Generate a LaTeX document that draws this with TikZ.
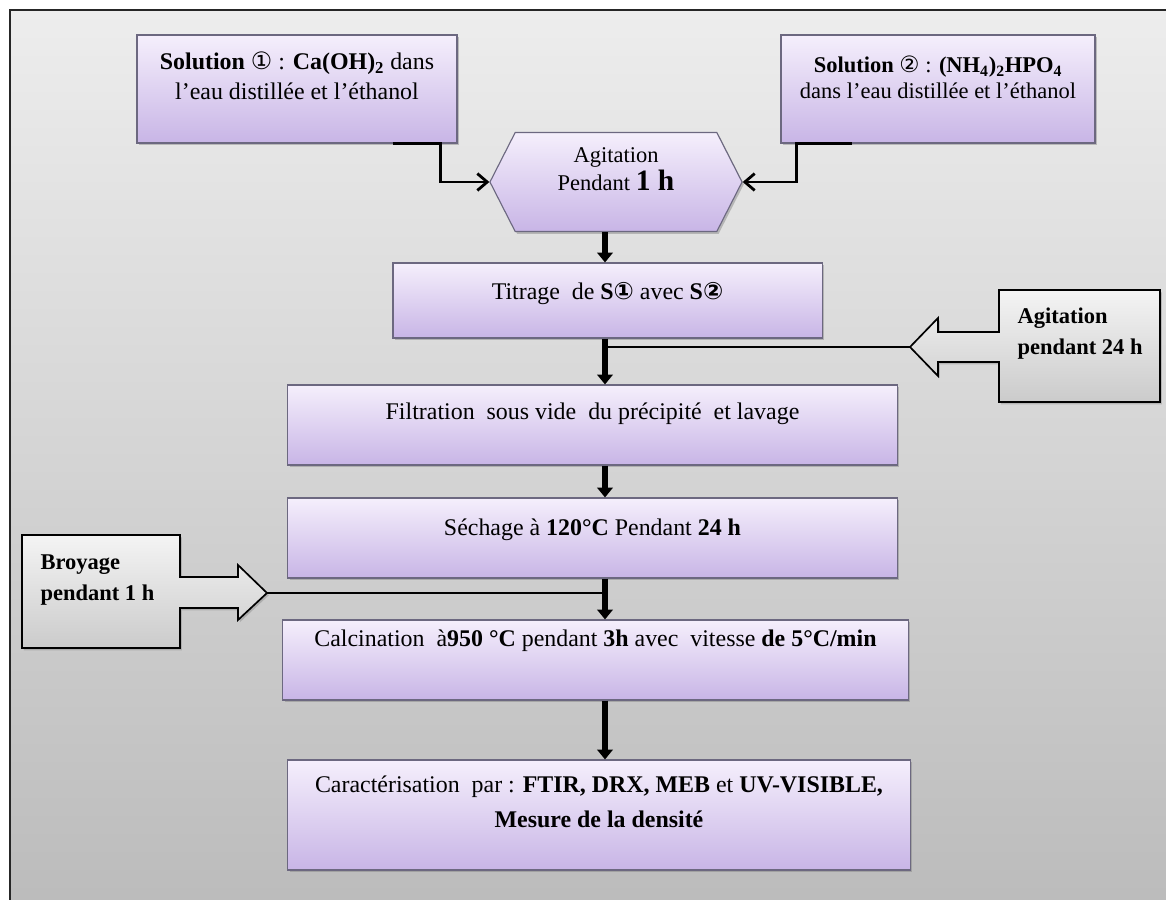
\documentclass[tikz,border=0pt]{standalone}
\usepackage{fontspec}
\setmainfont{Liberation Serif}
\newfontfamily\circfont{DejaVu Sans}
\usetikzlibrary{arrows.meta, positioning, shapes.symbols, shadows, calc}
\definecolor{clavtop}{HTML}{F5EFFC}
\definecolor{clavbot}{HTML}{C8B5E6}
\definecolor{cedge}{HTML}{6C6880}
\definecolor{cgreytop}{HTML}{F4F4F4}
\definecolor{cgreybot}{HTML}{CBCBCB}
\definecolor{cbgtop}{HTML}{EDEDED}
\definecolor{cbgbot}{HTML}{BBBBBB}
\newcommand{\cone}{{\circfont ①}}
\newcommand{\ctwo}{{\circfont ②}}
\tikzset{
  every picture/.style={line width=0.8pt},
  box/.style={draw=cedge, top color=clavtop, bottom color=clavbot, inner sep=0pt,
    drop shadow={shadow xshift=1.3pt, shadow yshift=-1.6pt, opacity=0.45}},
  sidebox/.style={draw=black, line width=1.2pt, top color=cgreytop, bottom color=cgreybot,
    drop shadow={shadow xshift=1.3pt, shadow yshift=-1.6pt, opacity=0.4}},
  txt/.style={align=center, inner sep=0pt, font=\fontsize{17}{24}\selectfont},
  calltext/.style={align=left, inner sep=0pt, font=\fontsize{16}{22}\selectfont\bfseries},
  flow/.style={-{Triangle[width=11pt,length=7pt]}, line width=3.7pt},
  feed/.style={-{Straight Barb[width=12pt,length=7pt]}, line width=2pt},
  tie/.style={line width=1pt},
}

\begin{document}
\begin{tikzpicture}[x=0.025cm, y=-0.025cm]
  \useasboundingbox (0,0) rectangle (1166,900);
  \clip (0,0) rectangle (1166,900);
  % page background
  \shade[top color=cbgtop, bottom color=cbgbot, draw=black!85, line width=1.4pt]
    (10,10) rectangle (1180,915);

  % the two solutions
  \node[box, minimum width=8cm, minimum height=2.7cm] (sol1) at (297,89) {};
  \node[txt, below=12pt of sol1.north, font=\fontsize{17}{21}\selectfont] (sol1txt)
    {\textbf{Solution} \cone{} : \textbf{Ca(OH)\textsubscript{2}} dans\\l'eau distillée et l'éthanol};
  \node[box, minimum width=7.85cm, minimum height=2.7cm] (sol2) at (938,89) {};
  \node[txt, below=15pt of sol2.north, font=\fontsize{16}{18.5}\selectfont] (sol2txt)
    {\textbf{Solution} \ctwo{} : \textbf{(NH\textsubscript{4})\textsubscript{2}HPO\textsubscript{4}}\\dans l'eau distillée et l'éthanol};

  \node[box, shape=signal, signal to=west and east, signal pointer angle=126,
    minimum width=6.3cm, minimum height=2.475cm] (hex) at (616,182) {};
  \node[txt, below=11pt of hex.north, font=\fontsize{16}{20}\selectfont] (hextxt)
    {Agitation\\Pendant {\fontsize{21}{20}\selectfont\bfseries 1 h}};

  % main chain
  \node[box, minimum width=10.725cm, minimum height=1.875cm] (titr) at (607.5,300.5) {};
  \node[txt, below=14pt of titr.north] (titrtxt) {Titrage \ de \textbf{S{\circfont\bfseries ①}} avec \textbf{S{\circfont\bfseries ②}}};
  \node[box, minimum width=15.225cm, minimum height=2cm] (filt) at (592.5,425) {};
  \node[txt, below=13pt of filt.north] (filttxt) {Filtration \ sous vide \ du précipité \ et lavage};
  \node[box, minimum width=15.225cm, minimum height=2cm] (sech) at (592.5,538) {};
  \node[txt, below=15pt of sech.north] (sechtxt) {Séchage à \textbf{120°C} Pendant \textbf{24 h}};
  \node[box, minimum width=15.625cm, minimum height=2cm] (calc) at (595.5,660) {};
  \node[txt, below=7pt of calc.north] (calctxt) {Calcination \ à\textbf{950 °C} pendant \textbf{3h} avec \ vitesse \textbf{de 5°C/min}};
  \node[box, minimum width=15.55cm, minimum height=2.75cm] (cara) at (599,815) {};
  \node[txt, below=11pt of cara.north, font=\fontsize{17}{25}\selectfont] (caratxt)
    {Caractérisation \ par : \textbf{FTIR, DRX, MEB} et \textbf{UV-VISIBLE,}\\\textbf{Mesure de la densité}};

  % side steps
  \shade[sidebox] (1160,290) -- (999,290) -- (999,332) -- (938,332) -- (938,318) -- (910,347)
    -- (938,376) -- (938,362) -- (999,362) -- (999,402) -- (1160,402) -- cycle;
  \node[calltext, anchor=north west] (agit) at (1017,307) {Agitation\\pendant 24 h};
  \shade[sidebox] (22,535) -- (180,535) -- (180,577) -- (238,577) -- (238,565) -- (267,593)
    -- (238,620) -- (238,608) -- (180,608) -- (180,648) -- (22,648) -- cycle;
  \node[calltext, anchor=north west] (broy) at (40,554) {Broyage\\pendant 1 h};

  \coordinate (axis) at (605,0);
  \coordinate (agittip) at (910,347);
  \coordinate (broytip) at (267,593);
  \draw[tie] (agittip) -- (agittip -| axis);
  \draw[tie] (broytip) -- (broytip -| axis);

  % connectors
  \coordinate (s1out) at ($(sol1.south east)+(-65,0)$);
  \coordinate (s2out) at ($(sol2.south west)+(72,0)$);
  \draw[feed] (s1out) -- ++(48,0) |- (hex.west);
  \draw[feed] (s2out) -- ++(-56,0) |- (hex.east);
  \draw[flow] (hex.south -| axis) -- (titr.north -| axis);
  \draw[flow] (titr.south -| axis) -- (filt.north -| axis);
  \draw[flow] (filt.south -| axis) -- (sech.north -| axis);
  \draw[flow] (sech.south -| axis) -- (calc.north -| axis);
  \draw[flow] (calc.south -| axis) -- (cara.north -| axis);
\end{tikzpicture}
\end{document}
